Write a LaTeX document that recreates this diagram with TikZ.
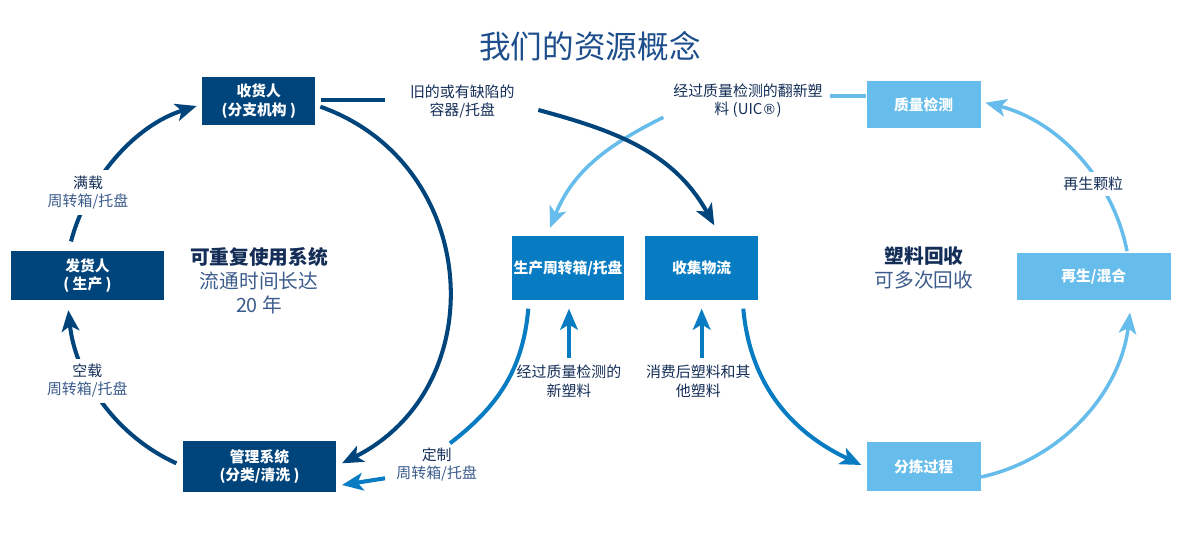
\documentclass[tikz,border=0pt]{standalone}
\usepackage{fontspec}
\setmainfont{Noto Sans CJK SC}
\newfontfamily\dejavu{DejaVu Sans}
\usetikzlibrary{arrows.meta}
\definecolor{navy}{RGB}{0,68,124}
\definecolor{midblue}{RGB}{8,124,194}
\definecolor{lightblue}{RGB}{102,188,234}
\definecolor{txtdark}{RGB}{20,46,88}
\definecolor{txtmid}{RGB}{60,92,140}
\definecolor{titleblue}{RGB}{30,78,140}
\begin{document}
\begin{tikzpicture}[x=0.02cm,y=-0.02cm,
  box/.style={inner sep=0pt, align=center, text=white, font=\bfseries\fontsize{8.4}{10.4}\selectfont},
  navybox/.style={box, fill=navy},
  midbox/.style={box, fill=midblue},
  lightbox/.style={box, fill=lightblue},
  lbl/.style={align=center, text=txtdark, font=\fontsize{8.5}{10.4}\selectfont, inner xsep=1pt, inner ysep=3pt},
  masklbl/.style={lbl, fill=white},
  bigtxt/.style={align=center, text=txtdark, font=\fontsize{11.2}{13.6}\selectfont},
  arrowtip/.style={-{Stealth[length=12pt,width=10pt,inset=3pt]}},
  darkline/.style={draw=navy, line width=2.3pt},
  midline/.style={draw=midblue, line width=2.3pt},
  lightline/.style={draw=lightblue, line width=2pt},
]
\useasboundingbox (0,0) rectangle (1180,536);

\node[text=titleblue, font=\fontsize{18}{20}\selectfont] (title) at (590,46) {我们的资源概念};

% boxes
\node[navybox, minimum width=2.26cm, minimum height=0.96cm] (rec) at (258.8,101) {收货人\\(分支机构 )};
\node[navybox, minimum width=3.07cm, minimum height=1.0cm] (ship) at (87.5,275.5) {发货人\\( 生产 )};
\node[navybox, minimum width=3.07cm, minimum height=1.03cm] (mgmt) at (259.5,466.3) {管理系统\\(分类/清洗 )};
\node[midbox, minimum width=2.26cm, minimum height=1.28cm] (prod) at (568,268) {生产周转箱/托盘};
\node[midbox, minimum width=2.26cm, minimum height=1.28cm] (coll) at (701.7,268) {收集物流};
\node[lightbox, minimum width=2.28cm, minimum height=0.94cm] (qc) at (923.7,104.7) {质量检测};
\node[lightbox, minimum width=3.08cm, minimum height=0.94cm] (regen) at (1093.7,276.7) {再生/混合};
\node[lightbox, minimum width=2.28cm, minimum height=0.98cm] (sort) at (923.7,466.7) {分拣过程};

% labels without mask
\node[lbl] (old) at (462.3,101.5) {旧的或有缺陷的\\容器/托盘};
\node[lbl] (uic) at (748,101) {经过质量检测的翻新塑\\料 (UIC{\dejavu\fontsize{8}{10}\selectfont ®})};
\node[lbl] (custom) at (436.7,464.2) {定制\\{\color{txtmid}周转箱/托盘}};
\node[lbl] (newpl) at (569,381.2) {经过质量检测的\\新塑料};
\node[lbl] (post) at (698.3,381.2) {消费后塑料和其\\他塑料};
\node[bigtxt] (center1) at (259,280.5) {{\bfseries 可重复使用系统}\\{\color{txtmid}流通时间长达}\\{\color{txtmid}20 年}};
\node[bigtxt] (center2) at (924,268) {{\bfseries 塑料回收}\\{\color{txtmid}可多次回收}};

% left loop
\draw[darkline, arrowtip] ([shift={(-16.5,-8.7)}]ship.north) to[out=75, in=197.5, looseness=0.9] ([shift={(-5.3,5)}]rec.west);
\draw[darkline, arrowtip] ([shift={(4.7,5.7)}]rec.east) to[out=-19.5, in=26.6, looseness=1.22] ([shift={(5.4,-3)}]mgmt.east);
\draw[darkline, arrowtip] ([shift={(-6,-3)}]mgmt.west) to[out=155.7, in=-83.9, looseness=0.91] ([shift={(-19.2,9.3)}]ship.south);

% middle connectors
\draw[lightline] ([shift={(82,-5)}]uic.center) -- ([shift={(0,-8.7)}]qc.west);
\draw[lightline, arrowtip] ([shift={(-84.7,16.3)}]uic.center) to[out=206.6, in=68] ([shift={(-18,-7.7)}]prod.north);
\draw[darkline] ([shift={(5,-1)}]rec.east) -- ([shift={(-77.3,-1.5)}]old.center);
\draw[darkline, arrowtip] ([shift={(76,8.5)}]old.center) to[out=-15, in=119] ([shift={(12.6,-10.3)}]coll.north);

\draw[midline] ([shift={(-39.7,8.3)}]prod.south) to[out=-95, in=37.5] ([shift={(13.3,-20.9)}]custom.center);
\draw[midline, arrowtip] ([shift={(-51.7,14.1)}]custom.center) -- ([shift={(5.4,18.7)}]mgmt.east);
\draw[midline, arrowtip] ([shift={(0,-23.2)}]newpl.center) -- ([shift={(1,8.3)}]prod.south);
\draw[midline, arrowtip] ([shift={(3.4,-23.2)}]post.center) -- ([shift={(0,8.3)}]coll.south);
\draw[midline, arrowtip] ([shift={(41.6,8.3)}]coll.south) to[out=-85, in=155] ([shift={(-5,-1.7)}]sort.west);

% right loop
\draw[lightline, arrowtip] ([shift={(0,10.3)}]sort.east) to[out=12.3, in=-96.9, looseness=0.94] ([shift={(36.3,12)}]regen.south);
\draw[lightline, arrowtip] ([shift={(33.3,-1.7)}]regen.north) to[out=101.1, in=-13.9, looseness=0.92] ([shift={(4.3,-2)}]qc.east);

% masking labels on loops
\node[masklbl] (full) at (88,192.5) {满载\\{\color{txtmid}周转箱/托盘}};
\node[masklbl] (empty) at (87.3,380.8) {空载\\{\color{txtmid}周转箱/托盘}};
\node[masklbl] (gran) at (1093.3,184) {再生颗粒};
\end{tikzpicture}
\end{document}
